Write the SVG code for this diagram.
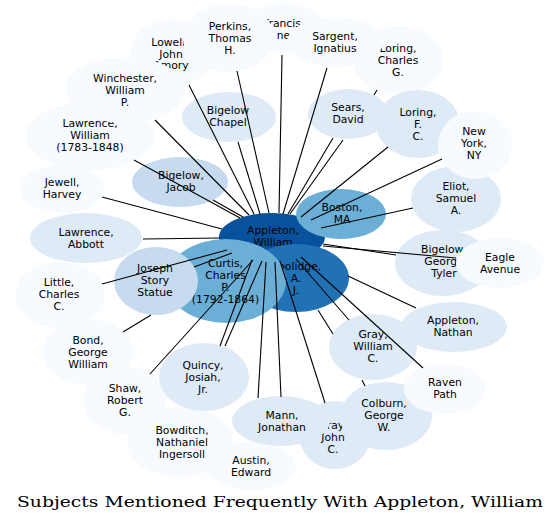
<svg xmlns="http://www.w3.org/2000/svg" width="560" height="527" viewBox="0 0 560 527">
<style>
text{font-family:"DejaVu Sans",sans-serif;font-size:10.8px;text-anchor:middle;fill:#000}
.t{font-family:"DejaVu Serif",serif;font-size:15.5px;text-anchor:middle}
.c0{fill:#f7fbff}.c1{fill:#deebf7}.c2{fill:#c6dbef}.c4{fill:#6baed6}.c6{fill:#2171b5}.c7{fill:#08519c}
#edges line{stroke:#000;stroke-width:1.1}
</style>
<rect width="560" height="527" fill="#fff"/>
<g id="nodes">
<g id="francis"><ellipse class="c0" cx="284" cy="28" rx="40" ry="25"/><text x="282" y="27">Francis</text><text x="283.5" y="38.5">ne</text></g>
<g id="lowell"><ellipse class="c0" cx="172" cy="53" rx="42" ry="34"/><text x="170" y="46">Lowell,</text><text x="171" y="57.5">John</text><text x="171" y="69">Amory</text></g>
<g id="loringcg"><ellipse class="c0" cx="398" cy="60" rx="45" ry="34"/><text x="398" y="52">Loring,</text><text x="398" y="64">Charles</text><text x="398" y="76">G.</text></g>
<g id="perkins"><ellipse class="c0" cx="229" cy="38" rx="46" ry="34"/><text x="230" y="30">Perkins,</text><text x="230" y="42">Thomas</text><text x="230" y="54">H.</text></g>
<g id="sargent"><ellipse class="c0" cx="335" cy="42" rx="48" ry="25"/><text x="335" y="40">Sargent,</text><text x="335" y="52">Ignatius</text></g>
<g id="lawrencew"><ellipse class="c0" cx="90" cy="136" rx="64" ry="34"/><text x="90" y="127">Lawrence,</text><text x="90" y="139">William</text><text x="90" y="151">(1783-1848)</text></g>
<g id="winchester"><ellipse class="c0" cx="125" cy="90" rx="60" ry="33"/><text x="125" y="82">Winchester,</text><text x="125" y="94">William</text><text x="125" y="106">P.</text></g>
<g id="chapel"><ellipse class="c1" cx="229" cy="117" rx="47" ry="25"/><text x="228" y="114">Bigelow</text><text x="228" y="126">Chapel</text></g>
<g id="sears"><ellipse class="c1" cx="348" cy="114" rx="40" ry="25"/><text x="348" y="111">Sears,</text><text x="348" y="123">David</text></g>
<g id="loringfc"><ellipse class="c1" cx="418" cy="124" rx="42" ry="34"/><text x="418" y="116">Loring,</text><text x="418" y="128">F.</text><text x="418" y="140">C.</text></g>
<g id="eliot"><ellipse class="c1" cx="456" cy="199" rx="45" ry="33"/><text x="456" y="190">Eliot,</text><text x="456" y="202">Samuel</text><text x="456" y="214">A.</text></g>
<g id="newyork"><ellipse class="c0" cx="475" cy="145" rx="37" ry="34"/><text x="474" y="135">New</text><text x="474" y="147">York,</text><text x="474" y="159">NY</text></g>
<g id="jewell"><ellipse class="c0" cx="62" cy="189" rx="42" ry="24"/><text x="62" y="185.5">Jewell,</text><text x="62" y="197.5">Harvey</text></g>
<g id="bigelowjacob"><ellipse class="c2" cx="180" cy="182" rx="48" ry="25"/><text x="181" y="179">Bigelow,</text><text x="181" y="190.5">Jacob</text></g>
<g id="lawrenceabbott"><ellipse class="c1" cx="86" cy="238" rx="56" ry="25"/><text x="86" y="236">Lawrence,</text><text x="86" y="248">Abbott</text></g>
<g id="little"><ellipse class="c0" cx="60" cy="295" rx="45" ry="33"/><text x="59" y="286">Little,</text><text x="59" y="298">Charles</text><text x="59" y="310">C.</text></g>
<g id="bond"><ellipse class="c0" cx="88" cy="352" rx="45" ry="33"/><text x="88" y="344">Bond,</text><text x="88" y="356">George</text><text x="88" y="368">William</text></g>
<g id="shaw"><ellipse class="c0" cx="125" cy="400" rx="42" ry="34"/><text x="125" y="392">Shaw,</text><text x="125" y="404">Robert</text><text x="125" y="416">G.</text></g>
<g id="bowditch"><ellipse class="c0" cx="180" cy="442" rx="53" ry="35"/><text x="182" y="434">Bowditch,</text><text x="182" y="446">Nathaniel</text><text x="182" y="458">Ingersoll</text></g>
<g id="quincy"><ellipse class="c1" cx="204" cy="377" rx="45" ry="34"/><text x="203" y="369">Quincy,</text><text x="203" y="381">Josiah,</text><text x="203" y="393">Jr.</text></g>
<g id="austin"><ellipse class="c0" cx="251" cy="466" rx="45" ry="24"/><text x="251" y="464">Austin,</text><text x="251" y="476">Edward</text></g>
<g id="grayjohn"><ellipse class="c1" cx="335" cy="435" rx="36" ry="34"/><text x="333" y="429">Gray,</text><text x="333" y="441">John</text><text x="333" y="453">C.</text></g>
<g id="mann"><ellipse class="c1" cx="281" cy="421" rx="49" ry="25"/><text x="282" y="419">Mann,</text><text x="282" y="431">Jonathan</text></g>
<g id="colburn"><ellipse class="c1" cx="386" cy="416" rx="46" ry="34"/><text x="384" y="407">Colburn,</text><text x="384" y="419">George</text><text x="384" y="431">W.</text></g>
<g id="graywilliam"><ellipse class="c1" cx="373" cy="347" rx="44" ry="33"/><text x="373" y="338">Gray,</text><text x="373" y="350">William</text><text x="373" y="362">C.</text></g>
<g id="appletonnathan"><ellipse class="c1" cx="454" cy="327" rx="53" ry="25"/><text x="453" y="324">Appleton,</text><text x="453" y="336">Nathan</text></g>
<g id="raven"><ellipse class="c0" cx="445" cy="389" rx="41" ry="25"/><text x="445" y="386">Raven</text><text x="445" y="398">Path</text></g>
<g id="bigelowgt"><ellipse class="c1" cx="443" cy="263" rx="48" ry="33"/><text x="444" y="253">Bigelow,</text><text x="444" y="265">George</text><text x="444" y="277">Tyler</text></g>
<g id="eagle"><ellipse class="c0" cx="500" cy="263" rx="44" ry="25"/><text x="500" y="261">Eagle</text><text x="500" y="273">Avenue</text></g>
<g id="appleton"><ellipse class="c7" cx="272" cy="237" rx="53" ry="24"/><text x="273" y="234">Appleton,</text><text x="273" y="246">William</text></g>
<g id="boston"><ellipse class="c4" cx="341" cy="214" rx="45" ry="25"/><text x="342" y="211">Boston,</text><text x="342" y="223">MA</text></g>
<g id="coolidge"><ellipse class="c6" cx="296" cy="278" rx="53" ry="34"/><text x="296" y="270">Coolidge,</text><text x="296" y="282">A.</text><text x="296" y="294">J.</text></g>
<g id="curtis"><ellipse class="c4" cx="226" cy="281" rx="60" ry="42"/><text x="225.5" y="267">Curtis,</text><text x="225.5" y="279">Charles</text><text x="225.5" y="291">P.</text><text x="225.5" y="303">(1792-1864)</text></g>
<g id="joseph"><ellipse class="c2" cx="156" cy="281" rx="42" ry="34"/><text x="155" y="272">Joseph</text><text x="155" y="284">Story</text><text x="155" y="296">Statue</text></g>
</g>
<g id="edges">
<line x1="282" y1="55" x2="279" y2="213"/>
<line x1="237" y1="71" x2="269" y2="213"/>
<line x1="189" y1="85" x2="254" y2="214"/>
<line x1="238" y1="142" x2="260" y2="214"/>
<line x1="155" y1="120" x2="249" y2="215"/>
<line x1="134" y1="160" x2="240" y2="218"/>
<line x1="213" y1="200" x2="243" y2="217"/>
<line x1="102" y1="197" x2="222" y2="229"/>
<line x1="143" y1="239" x2="220" y2="238"/>
<line x1="102" y1="284" x2="227" y2="250"/>
<line x1="194" y1="267" x2="232" y2="253"/>
<line x1="123" y1="332" x2="151" y2="315"/>
<line x1="150" y1="374" x2="253" y2="260"/>
<line x1="220" y1="346" x2="252" y2="260"/>
<line x1="225" y1="346" x2="262" y2="261"/>
<line x1="281" y1="397" x2="275" y2="262"/>
<line x1="258" y1="398" x2="266" y2="262"/>
<line x1="325" y1="403" x2="280" y2="261"/>
<line x1="296" y1="259" x2="349" y2="320"/>
<line x1="301" y1="257" x2="423" y2="368"/>
<line x1="318" y1="310" x2="333" y2="334"/>
<line x1="362" y1="380" x2="365" y2="386"/>
<line x1="348" y1="276" x2="416" y2="308"/>
<line x1="323" y1="244" x2="396" y2="255"/>
<line x1="323" y1="246" x2="456" y2="258"/>
<line x1="413" y1="208" x2="321" y2="228"/>
<line x1="442" y1="159" x2="311" y2="220"/>
<line x1="388" y1="147" x2="301" y2="217"/>
<line x1="333" y1="138" x2="288" y2="214"/>
<line x1="377" y1="90" x2="374" y2="95"/>
<line x1="343" y1="140" x2="290" y2="214"/>
<line x1="327" y1="68" x2="283" y2="214"/>
</g>
<text class="t" x="280" y="507" textLength="526" lengthAdjust="spacingAndGlyphs">Subjects Mentioned Frequently With Appleton, William</text>
</svg>
